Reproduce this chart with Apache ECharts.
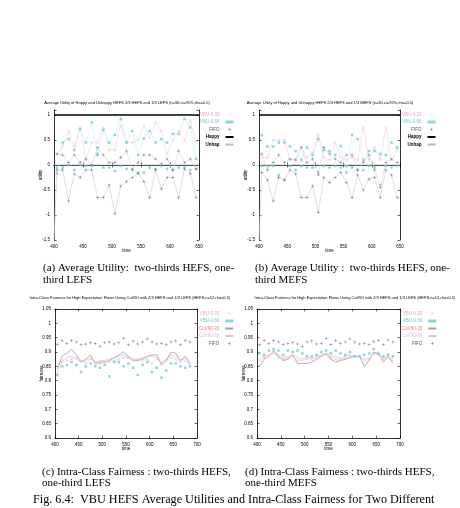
<!DOCTYPE html>
<html>
<head>
<meta charset="utf-8">
<script src="https://cdn.jsdelivr.net/npm/echarts@6/dist/echarts.min.js"></script>
<style>
html, body { margin: 0; padding: 0; background: #fff; }
#chart { width: 460px; height: 508px; }
</style>
</head>
<body>
<div id="chart"></div>
<script>
// x positions (time) for the utility plots and the fairness plots
var utilTime = [405, 415, 425, 435, 445, 455, 465, 475, 485, 495, 505, 515, 525, 535, 545, 555, 565, 575, 585, 595, 605, 615, 625, 635, 645];
var fairTime = [405, 415, 425, 435, 445, 455, 465, 475, 485, 495, 505, 515, 525, 535, 545, 555, 565, 575, 585, 595, 605, 615, 625, 635, 645, 655, 665, 675, 685];

// (a) two-thirds HEFS, one-third LEFS
var aVbu33 = [0.22, 0.38, 0.68, 0.38, 0.75, 0.1, 0.45, 0.45, 0.75, 0.3, 0.3, 0.78, 0.45, 0.45, 0.5, 0.78, 0.55, 0.85, 0.68, 0.22, 0.5, 0.68, 0.48, 0.88, 0.45];
var aVbu66 = [-0.17, 0.45, 0.52, 0.3, 0.72, 0.45, 0.85, 0.2, 0.7, 0.45, 0.6, 0.92, 0.45, 0.68, 0.2, 0.53, 0.68, 0.45, 0.52, 0.45, 0.62, 0.62, 0.92, 0.75, 0.12];
var aVbu66Lo = [-0.05, -0.05, 0, -0.1, 0, -0.02, -0.02, 0.22, -0.05, -0.05, -0.12, -0.02, -0.08, -0.08, -0.15, -0.15, -0.05, -0.08, -0.02, -0.08, -0.1, -0.05, -0.05, -0.1, -0.08];
var aFifoHi = [0.22, 0.2, 0.05, 0.2, 0.05, 0.12, 0.0, 0.35, 0.2, 0.05, 0.05, 0.15, 0.28, -0.1, 0.05, 0.2, 0.2, 0.12, 0.02, 0.12, -0.1, 0.28, 0.05, 0.12, -0.08];
var aFifoLo = [-0.1, -0.1, -0.72, -0.18, -0.25, -0.1, -0.1, -0.65, -0.65, -0.4, -0.97, -0.42, -0.33, -0.25, -0.17, -0.33, -0.65, -0.1, -0.48, -0.25, -0.25, -0.65, -0.08, -0.17, -0.65];

// (b) two-thirds HEFS, one-third MEFS
var bVbu33 = [0.15, 0.15, 0.5, 0.5, 0.5, 0.1, 0.12, 0.35, 0.15, 0.25, 0.6, 0.15, 0.1, 0.45, 0.15, 0.1, 0.15, 0.1, 0.75, 0.1, 0.35, 0.1, 0.75, 0.1, 0.3];
var bVbu66 = [0.6, 0.37, 0.37, 0.45, 0.45, 0.37, 0.28, 0.1, 0.35, 0.2, 0.52, 0.3, 0.28, 0.2, 0.38, -0.15, 0.6, 0.52, 0.1, 0.28, 0.28, 0.22, 0.2, 0.45, 0.35];
var bVbu66Lo = [-0.02, -0.02, -0.02, -0.2, -0.3, -0.02, -0.1, -0.02, -0.05, -0.05, -0.15, -0.02, -0.05, -0.02, -0.05, -0.02, -0.05, -0.1, -0.1, -0.02, -0.05, -0.4, -0.02, -0.05, -0.02];
var bFifoHi = [0.22, -0.1, 0.05, 0.2, 0.05, 0.12, 0.1, 0.35, 0.05, 0.12, -0.2, 0.35, 0.22, 0.12, 0.05, 0.2, 0.2, -0.1, 0.05, 0.2, -0.1, -0.45, 0.05, 0.12, 0.05];
var bFifoLo = [-0.15, -0.3, -0.72, -0.25, -0.3, -0.1, -0.18, -0.65, -0.65, -0.42, -0.95, -0.25, -0.35, -0.25, -0.15, -0.35, -0.65, -0.2, -0.5, -0.28, -0.25, -0.65, -0.1, -0.2, -0.65];

// start of the unhappy trace and the two reference levels
var unhapStart = [400, -1.5];
var happyLevel = 1;
var unhapLevel = 0;

// (c) fairness, two-thirds HEFS, one-third LEFS
var cVbu33 = [0.83, 0.865, 0.87, 0.875, 0.88, 0.87, 0.86, 0.875, 0.86, 0.86, 0.865, 0.865, 0.87, 0.875, 0.88, 0.88, 0.87, 0.875, 0.87, 0.875, 0.86, 0.875, 0.86, 0.87, 0.88, 0.875, 0.865, 0.87, 0.86];
var cVbu66 = [0.82, 0.85, 0.855, 0.865, 0.855, 0.83, 0.85, 0.86, 0.85, 0.845, 0.855, 0.815, 0.865, 0.865, 0.85, 0.86, 0.845, 0.82, 0.855, 0.865, 0.83, 0.845, 0.81, 0.835, 0.86, 0.86, 0.85, 0.845, 0.85];
var cCov33 = [0.84, 0.885, 0.895, 0.91, 0.89, 0.865, 0.875, 0.89, 0.86, 0.865, 0.865, 0.87, 0.88, 0.89, 0.9, 0.885, 0.87, 0.87, 0.875, 0.885, 0.89, 0.89, 0.855, 0.87, 0.9, 0.895, 0.87, 0.885, 0.86];
var cCov66 = [0.85, 0.87, 0.88, 0.885, 0.875, 0.865, 0.87, 0.88, 0.865, 0.87, 0.87, 0.875, 0.88, 0.885, 0.89, 0.88, 0.875, 0.875, 0.88, 0.885, 0.885, 0.88, 0.865, 0.875, 0.89, 0.885, 0.87, 0.88, 0.87];
var cFifo = [0.927, 0.94, 0.93, 0.94, 0.935, 0.925, 0.928, 0.932, 0.93, 0.92, 0.932, 0.935, 0.928, 0.932, 0.948, 0.925, 0.938, 0.928, 0.935, 0.945, 0.935, 0.928, 0.93, 0.925, 0.935, 0.938, 0.925, 0.94, 0.935];

// (d) fairness, two-thirds HEFS, one-third MEFS
var dVbu33 = [0.87, 0.88, 0.885, 0.9, 0.88, 0.875, 0.88, 0.885, 0.87, 0.87, 0.875, 0.875, 0.88, 0.885, 0.89, 0.88, 0.875, 0.875, 0.88, 0.885, 0.885, 0.885, 0.87, 0.875, 0.895, 0.89, 0.875, 0.885, 0.87];
var dVbu66 = [0.895, 0.89, 0.905, 0.91, 0.905, 0.89, 0.905, 0.9, 0.905, 0.895, 0.885, 0.885, 0.89, 0.9, 0.905, 0.895, 0.905, 0.895, 0.89, 0.9, 0.885, 0.885, 0.89, 0.895, 0.91, 0.895, 0.885, 0.89, 0.885];
var dCov33 = [0.85, 0.875, 0.885, 0.905, 0.885, 0.87, 0.875, 0.89, 0.86, 0.86, 0.86, 0.865, 0.875, 0.885, 0.895, 0.875, 0.865, 0.87, 0.875, 0.88, 0.885, 0.885, 0.85, 0.87, 0.9, 0.895, 0.865, 0.885, 0.86];
var dCov66 = [0.88, 0.885, 0.89, 0.895, 0.89, 0.88, 0.885, 0.89, 0.88, 0.875, 0.88, 0.88, 0.885, 0.89, 0.895, 0.885, 0.885, 0.88, 0.885, 0.89, 0.885, 0.885, 0.875, 0.88, 0.895, 0.89, 0.88, 0.885, 0.875];
var dFifo = [0.925, 0.94, 0.93, 0.94, 0.935, 0.925, 0.93, 0.932, 0.928, 0.92, 0.935, 0.938, 0.928, 0.93, 0.948, 0.925, 0.94, 0.93, 0.935, 0.945, 0.935, 0.928, 0.93, 0.925, 0.937, 0.94, 0.925, 0.942, 0.935];

var PINK = '#eaa6be', CYAN = '#6ccdd6', DARK = '#50506a', RED = '#d88080', ROSE = '#e8bcca';
var PLUS = 'path://M0,4.2H10V5.8H0Z M4.2,0H5.8V10H4.2Z';
var CROSS = 'path://M0.7,0L5,4.3L9.3,0L10,0.7L5.7,5L10,9.3L9.3,10L5,5.7L0.7,10L0,9.3L4.3,5L0,0.7Z';
var TICKFONT = 'Liberation Sans';

var panels = [
    { left: 54, top: 110, width: 145, height: 130, x: [400, 650], y: [-1.5, 1.1], yi: 0.5, yname: 'utility',
      title: 'Average Utility of Happy and Unhappy HEFS 2/3 HEFS and 1/3 LEFS (n=30,ci=95%,rho=0.5)', tx: 127, ty: 103 },
    { left: 259, top: 110, width: 141, height: 130, x: [400, 650], y: [-1.5, 1.1], yi: 0.5, yname: 'utility',
      title: 'Average Utility of Happy and Unhappy HEFS 2/3 HEFS and 1/3 MEFS (n=30,ci=95%,rho=0.5)', tx: 330, ty: 103 },
    { left: 55, top: 309, width: 142, height: 129, x: [400, 700], y: [0.6, 1.05], yi: 0.05, yname: 'fairness',
      title: 'Intra-Class Fairness for High Expectation Flows Using CoV90 with 2/3 HEFS and 1/3 LEFS (HEFS,n=12,rho=0.5)', tx: 130, ty: 298 },
    { left: 257, top: 309, width: 143, height: 129, x: [400, 700], y: [0.6, 1.05], yi: 0.05, yname: 'fairness',
      title: 'Intra-Class Fairness for High Expectation Flows Using CoV90 with 2/3 HEFS and 1/3 LEFS (HEFS,n=12,rho=0.5)', tx: 355, ty: 298 }
];

function pts(xs, ys) { return xs.map(function (x, i) { return [x, ys[i]]; }); }

function marks(name, gi, data, symbol, color, size) {
    return { type: 'scatter', name: name, xAxisIndex: 2 * gi, yAxisIndex: 2 * gi, data: data,
        symbol: symbol, symbolSize: size, itemStyle: { color: color }, silent: true, z: 4 };
}
function trace(name, gi, data, color, width) {
    return { type: 'line', name: name, xAxisIndex: 2 * gi, yAxisIndex: 2 * gi, data: data,
        symbol: 'none', itemStyle: { color: color }, lineStyle: { color: color, width: width }, silent: true, z: 2 };
}

var grids = [], xAxes = [], yAxes = [], graphics = [], legends = [];
panels.forEach(function (p, i) {
    grids.push({ left: p.left, top: p.top, width: p.width, height: p.height, containLabel: false });
    var lineStyle = { lineStyle: { color: '#000', width: 0.8 } };
    var tick = { inside: true, length: 2.5, lineStyle: { color: '#000', width: 0.6 } };
    var fmt = function (v) {
        var k = v / p.yi;
        if (Math.abs(k - Math.round(k)) > 1e-6) return '';
        return String(parseFloat(v.toFixed(2)));
    };
    xAxes.push({ type: 'value', gridIndex: i, position: 'bottom', min: p.x[0], max: p.x[1], interval: 50,
        axisLine: lineStyle, axisTick: tick, splitLine: { show: false },
        axisLabel: { fontSize: 4.5, fontFamily: TICKFONT, color: '#000', margin: 4 } });
    xAxes.push({ type: 'value', gridIndex: i, position: 'top', min: p.x[0], max: p.x[1], interval: 50,
        axisLine: lineStyle, axisTick: tick, splitLine: { show: false }, axisLabel: { show: false } });
    yAxes.push({ type: 'value', gridIndex: i, position: 'left', min: p.y[0], max: p.y[1], interval: p.yi,
        axisLine: lineStyle, axisTick: tick, splitLine: { show: false },
        axisLabel: { fontSize: 4.5, fontFamily: TICKFONT, color: '#000', margin: 4, formatter: fmt } });
    yAxes.push({ type: 'value', gridIndex: i, position: 'right', min: p.y[0], max: p.y[1], interval: p.yi,
        axisLine: lineStyle, axisTick: tick, splitLine: { show: false }, axisLabel: { show: false } });

    graphics.push({ type: 'text', x: p.tx, y: p.ty, silent: true,
        style: { text: p.title, font: '4px "Liberation Sans"', fill: '#000', align: 'center', verticalAlign: 'middle' } });
    graphics.push({ type: 'text', x: p.left + p.width / 2, y: p.top + p.height + 11, silent: true,
        style: { text: 'time', font: '4.5px "Liberation Sans"', fill: '#000', align: 'center', verticalAlign: 'middle' } });
    graphics.push({ type: 'text', x: p.left - 13, y: p.top + p.height / 2, rotation: Math.PI / 2, silent: true,
        style: { text: p.yname, font: '4.5px "Liberation Sans"', fill: '#000', align: 'center', verticalAlign: 'middle' } });
});

var series = [];
[[aVbu33, aVbu66, aVbu66Lo, aFifoHi, aFifoLo], [bVbu33, bVbu66, bVbu66Lo, bFifoHi, bFifoLo]].forEach(function (d, gi) {
    series.push(trace('Happy', gi, [[400, happyLevel], [650, happyLevel]], '#000', 1.4));
    series.push(trace('Unhap', gi, [[400, unhapLevel], [650, unhapLevel]], '#bbbbbb', 0.8));
    series.push(trace('_l1', gi, pts(utilTime, d[0]), '#f3d8e2', 0.7));
    series.push(trace('_l2', gi, pts(utilTime, d[1]), '#d2eff2', 0.7));
    series.push(trace('_l3', gi, pts(utilTime, d[3]), '#dadada', 0.7));
    series.push(trace('_l4', gi, [unhapStart].concat(pts(utilTime, d[4])), '#d2d2d2', 0.7));
    series.push(marks('VBU-0.33', gi, pts(utilTime, d[0]), CROSS, PINK, 3));
    series.push(marks('VBU-0.66', gi, pts(utilTime, d[1]), 'rect', CYAN, 2.5));
    series.push(marks('VBU-0.66', gi, pts(utilTime, d[2]), 'rect', CYAN, 2.5));
    series.push(marks('FIFO', gi, pts(utilTime, d[3]), PLUS, DARK, 3));
    series.push(marks('FIFO', gi, pts(utilTime, d[4]), PLUS, DARK, 3));
});
[[cVbu33, cVbu66, cCov33, cCov66, cFifo], [dVbu33, dVbu66, dCov33, dCov66, dFifo]].forEach(function (d, k) {
    var gi = k + 2;
    series.push(trace('CoV90-66', gi, pts(fairTime, d[3]), ROSE, 0.7));
    series.push(trace('CoV90-33', gi, pts(fairTime, d[2]), '#a0a0a0', 0.8));
    series.push(trace('_c1', gi, pts(fairTime, d[0]), '#f2d0dc', 0.6));
    series.push(marks('VBU-0.33', gi, pts(fairTime, d[0]), CROSS, PINK, 3));
    series.push(marks('VBU-0.66', gi, pts(fairTime, d[1]), 'rect', CYAN, 2.5));
    series.push(marks('FIFO', gi, pts(fairTime, d[4]), PLUS, DARK, 3));
});

// legend items: [name, text colour, weight, is a line sample]
function legendAt(left, top, items) {
    return { orient: 'vertical', left: left, top: top, align: 'right', itemWidth: 8, itemHeight: 3, itemGap: 2.5,
        padding: 0, selectedMode: false, textStyle: { fontSize: 4.5, fontFamily: TICKFONT, padding: [0, 1, 0, 0] },
        data: items.map(function (it) {
            var d = { name: it[0], textStyle: { color: it[1], fontWeight: it[2] || 'normal' } };
            if (it[3]) d.itemStyle = { opacity: 0 };
            return d;
        }) };
}
var utilLegend = [['VBU-0.33', PINK], ['VBU-0.66', CYAN], ['FIFO', DARK], ['Happy', '#000', 'bold', true], ['Unhap', '#000', 'bold', true]];
var fairLegend = [['VBU-0.33', PINK], ['VBU-0.66', CYAN], ['CoV90-33', RED, 'normal', true], ['CoV90-66', ROSE, 'normal', true], ['FIFO', DARK]];
legends.push(legendAt(200, 112, utilLegend));
legends.push(legendAt(402, 112, utilLegend));
legends.push(legendAt(199, 311, fairLegend));
legends.push(legendAt(402, 311, fairLegend));

// sub-figure captions
var CAP = '11px "Liberation Serif"';
var captions = [
    [43, 268, '(a) Average Utility:  two-thirds HEFS, one-'], [43, 280, 'third LEFS'],
    [255, 268, '(b) Average Utility :  two-thirds HEFS, one-'], [255, 280, 'third MEFS'],
    [42, 472, '(c) Intra-Class Fairness : two-thirds HEFS,'], [42, 483, 'one-third LEFS'],
    [245, 472, '(d) Intra-Class Fairness : two-thirds HEFS,'], [245, 483, 'one-third MEFS']
];
captions.forEach(function (c) {
    graphics.push({ type: 'text', x: c[0], y: c[1], silent: true,
        style: { text: c[2], font: CAP, fill: '#000', align: 'left', verticalAlign: 'middle' } });
});
graphics.push({ type: 'text', x: 33, y: 500, silent: true,
    style: { text: 'Fig. 6.4:  VBU HEFS Average Utilities and Intra-Class Fairness for Two Different',
        font: '12.2px "Liberation Serif"', fill: '#000', align: 'left', verticalAlign: 'middle' } });

var myChart = echarts.init(document.getElementById('chart'), null, { renderer: 'canvas' });
myChart.setOption({
    animation: false,
    backgroundColor: '#fff',
    grid: grids,
    xAxis: xAxes,
    yAxis: yAxes,
    legend: legends,
    graphic: graphics,
    series: series
});
</script>
</body>
</html>
